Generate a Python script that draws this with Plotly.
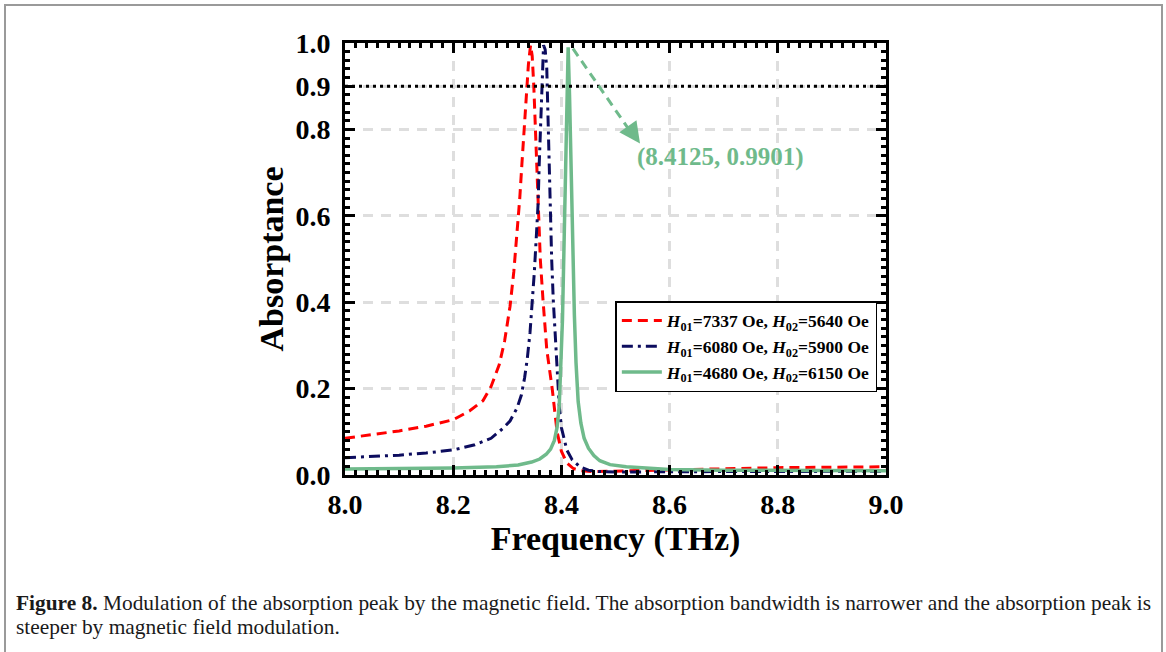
import plotly.graph_objects as go

# ---------------- data ----------------
RED_X = [8.000, 8.050, 8.100, 8.150, 8.200, 8.230, 8.255, 8.270, 8.285, 8.295,
         8.305, 8.312, 8.318, 8.323, 8.327, 8.331, 8.335, 8.339, 8.343, 8.346,
         8.349, 8.353, 8.357, 8.361, 8.366, 8.373, 8.383, 8.392, 8.400, 8.410,
         8.422, 8.435, 8.460, 8.500, 8.600, 8.700, 8.800, 8.900, 9.000]
RED_Y = [0.085, 0.093, 0.102, 0.113, 0.128, 0.148, 0.172, 0.205, 0.255, 0.310,
         0.390, 0.470, 0.555, 0.640, 0.720, 0.800, 0.875, 0.950, 0.995, 0.970,
         0.900, 0.780, 0.630, 0.500, 0.405, 0.290, 0.200, 0.100, 0.055, 0.028,
         0.015, 0.010, 0.008, 0.009, 0.013, 0.015, 0.017, 0.018, 0.019]

BLUE_X = [8.000, 8.050, 8.100, 8.150, 8.200, 8.240, 8.270, 8.292, 8.305, 8.318,
          8.326, 8.332, 8.337, 8.342, 8.346, 8.350, 8.354, 8.357, 8.359, 8.361,
          8.363, 8.365, 8.367, 8.370, 8.373, 8.375, 8.377, 8.380, 8.382, 8.385,
          8.389, 8.392, 8.396, 8.400, 8.405, 8.410, 8.420, 8.434, 8.450, 8.470,
          8.500, 8.600, 8.700, 8.800, 8.900, 9.000]
BLUE_Y = [0.040, 0.043, 0.046, 0.051, 0.058, 0.070, 0.085, 0.108, 0.125, 0.155,
          0.185, 0.225, 0.270, 0.330, 0.390, 0.470, 0.560, 0.630, 0.720, 0.800,
          0.880, 0.960, 0.995, 0.985, 0.940, 0.840, 0.720, 0.580, 0.500, 0.405,
          0.320, 0.250, 0.160, 0.110, 0.080, 0.058, 0.035, 0.019, 0.011, 0.008,
          0.007, 0.008, 0.008, 0.008, 0.009, 0.009]

GREEN_X = [8.000, 8.100, 8.200, 8.280, 8.320, 8.345, 8.360, 8.372, 8.380, 8.387,
           8.392, 8.396, 8.399, 8.402, 8.404, 8.406, 8.408, 8.410, 8.4125, 8.415,
           8.417, 8.419, 8.421, 8.424, 8.427, 8.431, 8.436, 8.442, 8.450, 8.460,
           8.471, 8.490, 8.520, 8.560, 8.600, 8.700, 8.800, 8.900, 9.000]
GREEN_Y = [0.014, 0.015, 0.016, 0.019, 0.023, 0.030, 0.037, 0.048, 0.060, 0.080,
           0.110, 0.160, 0.250, 0.360, 0.480, 0.600, 0.720, 0.860, 0.9901, 0.880,
           0.760, 0.640, 0.500, 0.370, 0.260, 0.170, 0.120, 0.085, 0.062, 0.045,
           0.033, 0.024, 0.019, 0.015, 0.013, 0.011, 0.010, 0.010, 0.010]

SERIES_NAMES = [
    "<b><i>H</i><sub>01</sub>=7337 Oe, <i>H</i><sub>02</sub>=5640 Oe</b>",
    "<b><i>H</i><sub>01</sub>=6080 Oe, <i>H</i><sub>02</sub>=5900 Oe</b>",
    "<b><i>H</i><sub>01</sub>=4680 Oe, <i>H</i><sub>02</sub>=6150 Oe</b>",
]
X_TICKS = [8.0, 8.2, 8.4, 8.6, 8.8, 9.0]
Y_TICKS = [0.0, 0.2, 0.4, 0.6, 0.8, 0.9, 1.0]
THRESHOLD = 0.9
PEAK = (8.4125, 0.9901)
PEAK_LABEL = "(8.4125, 0.9901)"
CAPTION_1 = ("<b>Figure 8.</b> Modulation of the absorption peak by the magnetic field. "
             "The absorption bandwidth is narrower and the absorption peak is")
CAPTION_2 = "steeper by magnetic field modulation."

# ---------------- style ----------------
FONT = "Liberation Serif, Times New Roman, serif"
RED = "#ff0000"
NAVY = "#0c0c5e"
GREEN = "#6fba8b"

W, H = 1166, 652
L, R, T, B = 345, 886, 43, 475  # plot area in pixels


def px(x):
    return (x - L) / (R - L)


def py(y):
    return (B - y) / (B - T)


fig = go.Figure()
fig.add_trace(go.Scatter(x=RED_X, y=RED_Y, mode="lines", name=SERIES_NAMES[0],
                         line=dict(color=RED, width=3, dash="10px,6px")))
fig.add_trace(go.Scatter(x=BLUE_X, y=BLUE_Y, mode="lines", name=SERIES_NAMES[1],
                         line=dict(color=NAVY, width=3, dash="11px,5px,3px,5px")))
fig.add_trace(go.Scatter(x=GREEN_X, y=GREEN_Y, mode="lines", name=SERIES_NAMES[2],
                         line=dict(color=GREEN, width=3.5)))

axis_common = dict(
    showline=True, linecolor="black", linewidth=3, mirror="allticks",
    ticks="inside", ticklen=10, tickwidth=2.5, tickcolor="black",
    showgrid=True, gridcolor="#dedede", gridwidth=2.5, griddash="10px,8px",
    zeroline=False,
    tickfont=dict(family=FONT, size=28, color="black", weight="bold"),
)

fig.update_xaxes(range=[8.0, 9.0], tickvals=X_TICKS, tickformat=".1f",
                 ticklabelstandoff=2,
                 minor=dict(dtick=0.02, tick0=8.0, ticks="inside", ticklen=5,
                            tickwidth=2.5, tickcolor="black", showgrid=False),
                 title=dict(text="Frequency (THz)", standoff=7,
                            font=dict(family=FONT, size=34, color="black", weight="bold")),
                 **axis_common)
fig.update_yaxes(range=[0.0, 1.0], tickvals=Y_TICKS, tickformat=".1f",
                 ticklabelstandoff=6,
                 minor=dict(dtick=0.02, tick0=0.0, ticks="inside", ticklen=5,
                            tickwidth=2.5, tickcolor="black", showgrid=False),
                 title=dict(text="Absorptance", standoff=2,
                            font=dict(family=FONT, size=34, color="black", weight="bold")),
                 **axis_common)

shapes = [
    # white underlay hiding the grey grid line at the threshold
    dict(type="line", xref="paper", yref="y", x0=0, x1=1, y0=THRESHOLD, y1=THRESHOLD,
         line=dict(color="white", width=3), layer="between"),
    # black dotted threshold line
    dict(type="line", xref="paper", yref="y", x0=0, x1=1, y0=THRESHOLD, y1=THRESHOLD,
         line=dict(color="black", width=3, dash="3px,4px"), layer="above"),
    # dashed arrow shaft
    dict(type="line", xref="x", yref="y", x0=8.4214, y0=0.987, x1=8.523, y1=0.803,
         line=dict(color=GREEN, width=3, dash="9px,6px"), layer="above"),
    # figure border
    dict(type="rect", xref="paper", yref="paper", x0=px(5), x1=px(1162), y0=py(720), y1=py(5),
         line=dict(color="#9a9a9a", width=2), layer="above"),
]

annotations = [
    dict(x=8.5453, y=0.7676, ax=8.527, ay=0.800, xref="x", yref="y", axref="x", ayref="y",
         text="", showarrow=True, arrowhead=2, arrowsize=1.4, arrowwidth=3,
         arrowcolor=GREEN, standoff=0),
    dict(x=8.694, y=0.735, xref="x", yref="y", text=PEAK_LABEL, showarrow=False,
         font=dict(family=FONT, size=25, color=GREEN, weight="bold")),
    dict(x=px(14), y=py(603), xref="paper", yref="paper", xanchor="left", yanchor="middle",
         text=CAPTION_1, showarrow=False, align="left",
         font=dict(family="Liberation Serif", size=21.4, color="#1a1a1a")),
    dict(x=px(14), y=py(627), xref="paper", yref="paper", xanchor="left", yanchor="middle",
         text=CAPTION_2, showarrow=False, align="left",
         font=dict(family="Liberation Serif", size=21.4, color="#1a1a1a")),
]

fig.update_layout(
    width=W, height=H,
    margin=dict(l=L, r=W - R, t=T, b=H - B),
    paper_bgcolor="white", plot_bgcolor="white",
    shapes=shapes, annotations=annotations,
    legend=dict(x=0.984, y=py(301), xanchor="right", yanchor="top",
                bgcolor="white", bordercolor="black", borderwidth=1.5,
                font=dict(family=FONT, size=17.5, color="black"),
                tracegroupgap=0, itemwidth=40),
    showlegend=True,
)

fig.write_html("out.html")
